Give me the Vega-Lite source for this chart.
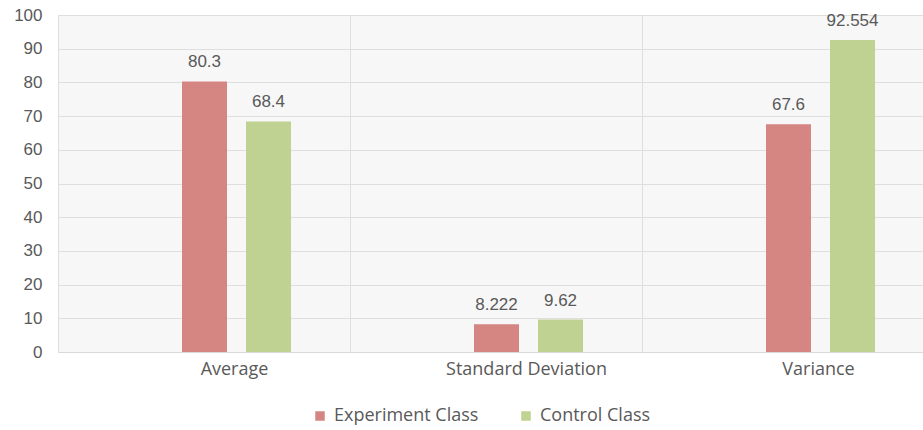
{
  "$schema": "https://vega.github.io/schema/vega-lite/v6.json",
  "autosize": "none",
  "width": 865,
  "height": 337,
  "padding": {"left": 58, "top": 15, "right": 0, "bottom": 78},
  "background": "white",
  "config": {
    "view": {"fill": "#f7f7f7", "stroke": null},
    "axis": {"gridColor": "#dedede", "gridWidth": 1}
  },
  "data": {
    "values": [
      {"measure": "Average", "group": "Experiment Class", "value": 80.3, "label": "80.3"},
      {"measure": "Average", "group": "Control Class", "value": 68.4, "label": "68.4"},
      {"measure": "Standard Deviation", "group": "Experiment Class", "value": 8.222, "label": "8.222"},
      {"measure": "Standard Deviation", "group": "Control Class", "value": 9.62, "label": "9.62"},
      {"measure": "Variance", "group": "Experiment Class", "value": 67.6, "label": "67.6"},
      {"measure": "Variance", "group": "Control Class", "value": 92.554, "label": "92.554"}
    ]
  },
  "encoding": {
    "x": {
      "field": "measure",
      "type": "nominal",
      "sort": ["Average", "Standard Deviation", "Variance"],
      "scale": {"range": [0, 876], "paddingInner": 0, "paddingOuter": 0},
      "axis": {
        "title": null,
        "labelAngle": 0,
        "labelFont": "Open Sans",
        "labelFontSize": 18,
        "labelColor": "#595959",
        "labelOffset": 30,
        "labelPadding": 8,
        "ticks": false,
        "tickBand": "extent",
        "grid": true,
        "domainColor": "#d9d9d9"
      }
    },
    "xOffset": {
      "field": "group",
      "type": "nominal",
      "sort": ["Experiment Class", "Control Class"],
      "scale": {"range": [124, 233], "paddingInner": 0.297, "paddingOuter": 0}
    },
    "y": {
      "field": "value",
      "type": "quantitative",
      "scale": {"domain": [0, 100], "nice": false},
      "axis": {
        "title": null,
        "values": [0, 10, 20, 30, 40, 50, 60, 70, 80, 90, 100],
        "labelFont": "Liberation Sans",
        "labelFontSize": 17,
        "labelColor": "#595959",
        "labelPadding": 16,
        "ticks": false,
        "domain": false,
        "grid": true
      }
    }
  },
  "layer": [
    {
      "mark": {"type": "bar"},
      "encoding": {
        "color": {
          "field": "group",
          "type": "nominal",
          "sort": ["Experiment Class", "Control Class"],
          "scale": {"domain": ["Experiment Class", "Control Class"], "range": ["#d58683", "#bfd291"]},
          "legend": {
            "title": null,
            "orient": "none",
            "direction": "horizontal",
            "legendX": 253,
            "legendY": 392,
            "symbolType": "square",
            "symbolSize": 90,
            "symbolStrokeWidth": 0,
            "labelFont": "Open Sans",
            "labelFontSize": 18,
            "labelColor": "#595959",
            "labelOffset": 5,
            "columnPadding": 38
          }
        }
      }
    },
    {
      "mark": {"type": "text", "baseline": "bottom", "dy": -10, "font": "Liberation Sans", "fontSize": 17, "color": "#595959"},
      "encoding": {"text": {"field": "label", "type": "nominal"}}
    }
  ]
}
